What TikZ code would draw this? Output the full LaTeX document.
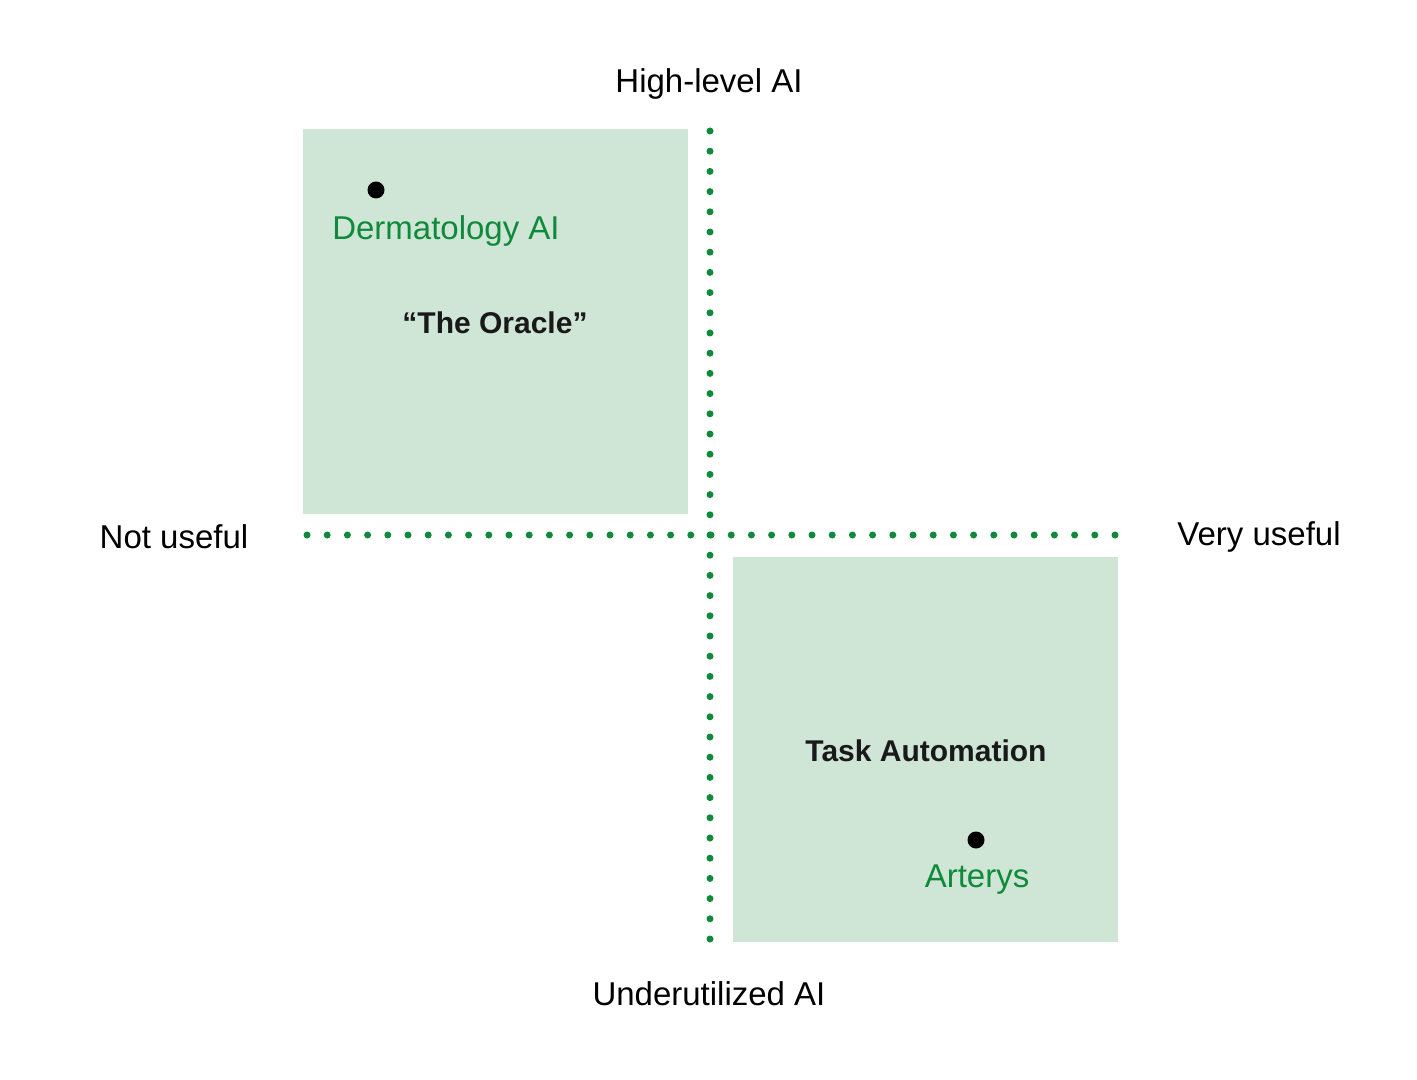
\documentclass[tikz,border=0pt]{standalone}
\usepackage{fontspec}
\setmainfont{Liberation Sans}
\usepackage{tikz}
\usetikzlibrary{positioning}

\definecolor{quadfill}{HTML}{CFE6D6}
\definecolor{axisgreen}{HTML}{0E8A3A}

\begin{document}
\begin{tikzpicture}[
	x=0.5pt, y=-0.5pt,
	font=\fontsize{16.5}{19}\selectfont,
		quadrant/.style={
			rectangle,
			fill=quadfill,
			minimum width=192.5pt,
			minimum height=192.5pt,
			inner sep=0pt
		},
		axis/.style={
			axisgreen,
			line width=3.5pt,
			line cap=round,
			dash pattern=on 0pt off 10.1pt
		},
		axislabel/.style={
			text=black
		},
		title/.style={
			font=\fontsize{15}{18}\selectfont\bfseries,
			text=black!90
		},
		example/.style={
			text=axisgreen
		},
		marker/.style={
			circle,
			fill=black,
			minimum size=8.5pt,
			inner sep=0pt
		}
	]
	\useasboundingbox (0,0) rectangle (1417,1080);
	% Quadrant boxes
	\node[quadrant, anchor=north west] (oracle) at (303,129) {};
	\node[quadrant, anchor=north west] (automation) at (733,557) {};
	% Axis end points
	\coordinate (vtop) at (710,131);
	\coordinate (vbot) at (710,941);
	\coordinate (hleft) at (307,535);
	\coordinate (hright) at (1116,535);
	% Axes
	\draw[axis] (vtop) -- (vbot);
	\draw[axis] (hleft) -- (hright);
	% Axis labels
	\node[axislabel] (high) at (709,84) {High-level AI};
	\node[axislabel] (low) at (709,994) {Underutilized AI};
	\node[axislabel] (notuseful) at (174,537) {Not useful};
	\node[axislabel] (veryuseful) at (1259,537) {Very useful};
	% Quadrant titles
	\node[title] (oracletitle) at (495,323) {``The Oracle''};
	\node[title] (autotitle) at (926,751) {Task Automation};
	% Examples
	\node[marker] (derm) at (376,190) {};
	\node[example] (dermlabel) at (446,231) {Dermatology AI};
	\node[marker] (arterys) at (976,840) {};
	\node[example] (arteryslabel) at (977,880) {Arterys};
\end{tikzpicture}
\end{document}
